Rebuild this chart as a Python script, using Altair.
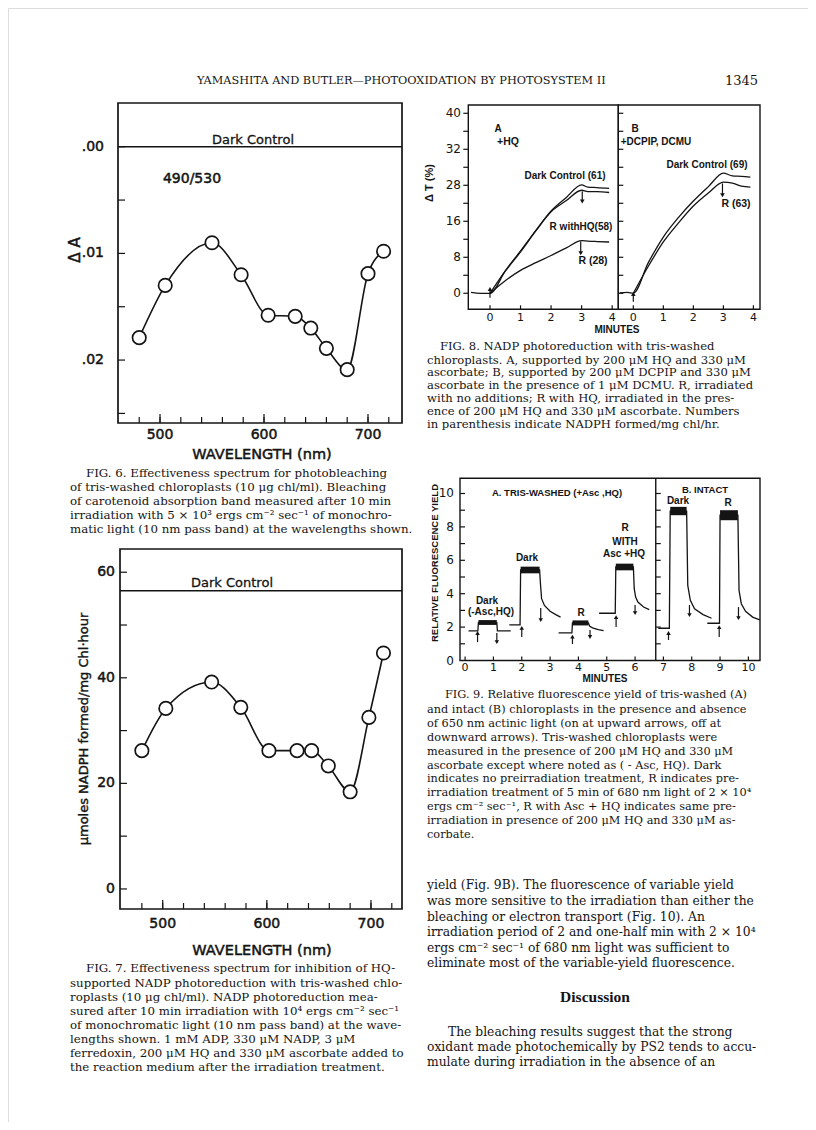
import altair as alt
import pandas as pd

M = 8


def P(v):
    return v - M


SANS = "DejaVu Sans"
LSANS = "Liberation Sans"
SERIF = "DejaVu Serif"
SERIF2 = "Liberation Serif"
INK = "#141414"

# ---------------- data ----------------
header_title = "YAMASHITA AND BUTLER—PHOTOOXIDATION BY PHOTOSYSTEM II"
page_number = "1345"

# Fig. 6
fig6_wavelength = [480, 505, 550, 578, 604, 630, 645, 660, 680, 700, 715]
fig6_delta_a = [0.0179, 0.0130, 0.0090, 0.0120, 0.0158, 0.0159, 0.0170, 0.0189, 0.0209, 0.0119, 0.0098]
fig6_dark_control = [0.0]
fig6_x_ticks = [480, 500, 520, 540, 560, 580, 600, 620, 640, 660, 680, 700, 720]
fig6_x_major = [500, 600, 700]
fig6_x_labels = ["500", "600", "700"]
fig6_y_ticks = [0.0, 0.005, 0.01, 0.015, 0.02, 0.025]
fig6_y_major = [0.0, 0.01, 0.02]
fig6_y_labels = [".00", ".01", ".02"]

# Fig. 7
fig7_wavelength = [480, 503, 547, 575, 602, 629, 643, 659, 680, 698, 712]
fig7_nadph = [26.2, 34.2, 39.2, 34.4, 26.2, 26.2, 26.2, 23.3, 18.4, 32.5, 44.7]
fig7_dark_control = [56.5]
fig7_y_ticks = [0, 10, 20, 30, 40, 50, 60]
fig7_y_major = [0, 20, 40, 60]
fig7_y_labels = ["0", "20", "40", "60"]

# Fig. 8 A (+HQ)
fig8a_dark_min = [-0.62, -0.3, 0.0, 0.5, 1.0, 1.5, 2.0, 2.5, 3.0, 3.2, 3.5, 3.9]
fig8a_dark_dt = [0.2, 0.0, 0.0, 4.9, 9.2, 13.9, 18.3, 21.3, 24.1, 23.6, 23.5, 23.3]
fig8a_rhq_min = [0.0, 0.5, 1.0, 1.5, 2.0, 2.5, 3.0, 3.2, 3.5, 3.9]
fig8a_rhq_dt = [0.0, 5.0, 9.4, 13.9, 18.1, 20.6, 22.9, 22.6, 22.6, 22.4]
fig8a_r_min = [0.0, 0.5, 1.0, 1.5, 2.0, 2.5, 3.0, 3.2, 3.5, 3.9]
fig8a_r_dt = [0.0, 2.8, 5.1, 6.8, 8.4, 10.1, 11.7, 11.6, 11.5, 11.4]
# Fig. 8 B (+DCPIP, DCMU)
fig8b_dark_min = [-0.45, -0.2, 0.0, 0.5, 1.0, 1.5, 2.0, 2.5, 3.0, 3.3, 3.6, 3.9]
fig8b_dark_dt = [0.1, 0.2, 0.0, 6.8, 12.5, 16.8, 20.5, 23.7, 26.7, 26.1, 26.0, 25.8]
fig8b_r_min = [0.0, 0.5, 1.0, 1.5, 2.0, 2.5, 3.0, 3.3, 3.6, 3.9]
fig8b_r_dt = [0.0, 6.0, 11.4, 15.6, 19.4, 22.3, 24.7, 24.5, 23.8, 23.6]
fig8_y_ticks = [0, 4, 8, 12, 16, 20, 24, 28, 32, 36, 40]
fig8_y_major = [0, 8, 16, 24, 32, 40]
fig8_y_labels = ["0", "8", "16", "28", "32", "40"]
fig8_x_ticks = [0, 1, 2, 3, 4]
fig8_x_labels = ["0", "1", "2", "3", "4"]
# arrows: minute, tail, head
fig8a_arrow_min = [0.0, 3.02, 2.97]
fig8a_arrow_tail = [-1.0, 22.6, 11.5]
fig8a_arrow_head = [0.96, 20.4, 8.9]
fig8b_arrow_min = [0.0, 2.97]
fig8b_arrow_tail = [-1.9, 24.4]
fig8b_arrow_head = [-0.15, 21.8]

# Fig. 9 traces (minutes, relative yield)
fig9_t1_min = [0.12, 0.45, 0.47, 1.12, 1.14, 1.61]
fig9_t1_val = [1.77, 1.77, 2.27, 2.27, 1.77, 1.77]
fig9_t2_min = [1.56, 1.94, 1.96, 2.63, 2.66, 2.7, 2.8, 3.0, 3.2, 3.37]
fig9_t2_val = [2.13, 2.13, 5.42, 5.42, 4.6, 3.7, 3.3, 2.95, 2.75, 2.6]
fig9_t3_min = [3.3, 3.77, 3.79, 4.35, 4.4, 4.5, 4.7, 4.89]
fig9_t3_val = [1.66, 1.66, 2.25, 2.25, 2.05, 1.95, 1.85, 1.79]
fig9_t4_min = [4.73, 5.3, 5.32, 5.94, 5.97, 6.02, 6.1, 6.3, 6.5]
fig9_t4_val = [2.83, 2.83, 5.6, 5.6, 4.3, 3.8, 3.5, 3.2, 3.05]
fig9_t5_min = [6.82, 7.21, 7.24, 7.82, 7.86, 7.95, 8.1, 8.4, 8.7]
fig9_t5_val = [1.93, 1.93, 8.95, 8.95, 4.5, 3.6, 3.1, 2.75, 2.53]
fig9_t6_min = [8.55, 8.98, 9.0, 9.63, 9.67, 9.75, 9.9, 10.15, 10.4]
fig9_t6_val = [2.23, 2.23, 8.7, 8.7, 4.2, 3.4, 2.95, 2.6, 2.43]
# noisy plateaus: start, end, low, high
fig9_plat_start = [0.47, 1.96, 3.79, 5.32, 7.24, 9.0]
fig9_plat_end = [1.12, 2.63, 4.35, 5.94, 7.82, 9.63]
fig9_plat_low = [2.13, 5.22, 2.1, 5.4, 8.7, 8.4]
fig9_plat_high = [2.42, 5.62, 2.4, 5.8, 9.2, 9.0]
# light on (up) / off (down) arrows
fig9_arrow_min = [0.44, 1.12, 2.0, 2.67, 3.79, 4.41, 5.33, 6.0, 7.18, 7.92, 8.97, 9.65]
fig9_arrow_tail = [1.1, 1.65, 1.4, 3.14, 0.99, 1.83, 2.0, 3.32, 1.23, 3.32, 1.41, 3.2]
fig9_arrow_head = [1.65, 1.1, 1.95, 2.42, 1.43, 1.41, 2.6, 2.84, 1.65, 2.72, 2.0, 2.54]
fig9_y_ticks = [1, 2, 3, 4, 5, 6, 7, 8, 9, 10]
fig9_y_major = [0, 2, 4, 6, 8, 10]
fig9_y_labels = ["0", "2", "4", "6", "8", "10"]
fig9_x_ticks = [0, 1, 2, 3, 4, 5, 6, 7, 8, 9, 10]
fig9_x_labels = ["0", "1", "2", "3", "4", "5", "6", "7", "8", "9", "10"]
fig9_divider = [6.73]

# captions and body text
fig6_caption = [
    "FIG. 6.  Effectiveness spectrum for photobleaching",
    "of tris-washed chloroplasts (10 μg chl/ml).  Bleaching",
    "of carotenoid absorption band measured after 10 min",
    "irradiation with 5 × 10³ ergs cm⁻² sec⁻¹ of monochro-",
    "matic light (10 nm pass band) at the wavelengths shown.",
]
fig7_caption = [
    "FIG. 7.  Effectiveness spectrum for inhibition of HQ-",
    "supported NADP photoreduction with tris-washed chlo-",
    "roplasts (10 μg chl/ml).  NADP photoreduction mea-",
    "sured after 10 min irradiation with 10⁴ ergs cm⁻² sec⁻¹",
    "of monochromatic light (10 nm pass band) at the wave-",
    "lengths shown.  1 mM ADP, 330 μM NADP, 3 μM",
    "ferredoxin, 200 μM HQ and 330 μM ascorbate added to",
    "the reaction medium after the irradiation treatment.",
]
fig8_caption = [
    "FIG. 8.  NADP photoreduction with tris-washed",
    "chloroplasts.  A, supported by 200 μM HQ and 330 μM",
    "ascorbate; B, supported by 200 μM DCPIP and 330 μM",
    "ascorbate in the presence of 1 μM DCMU.  R, irradiated",
    "with no additions; R with HQ, irradiated in the pres-",
    "ence of 200 μM HQ and 330 μM ascorbate.  Numbers",
    "in parenthesis indicate NADPH formed/mg chl/hr.",
]
fig9_caption = [
    "FIG. 9.  Relative fluorescence yield of tris-washed (A)",
    "and intact (B) chloroplasts in the presence and absence",
    "of 650 nm actinic light (on at upward arrows, off at",
    "downward arrows).  Tris-washed chloroplasts were",
    "measured in the presence of 200 μM HQ and 330 μM",
    "ascorbate except where noted as ( - Asc, HQ).  Dark",
    "indicates no preirradiation treatment, R indicates pre-",
    "irradiation treatment of 5 min of 680 nm light of 2 × 10⁴",
    "ergs cm⁻² sec⁻¹, R with Asc + HQ indicates same pre-",
    "irradiation in presence of 200 μM HQ and 330 μM as-",
    "corbate.",
]
body_para1 = [
    "yield (Fig. 9B).  The fluorescence of variable yield",
    "was more sensitive to the irradiation than either the",
    "bleaching  or  electron  transport  (Fig. 10).   An",
    "irradiation period of 2 and one-half min with 2 × 10⁴",
    "ergs cm⁻² sec⁻¹ of 680 nm light was sufficient to",
    "eliminate most of the variable-yield fluorescence.",
]
body_heading = "Discussion"
body_para2 = [
    "The bleaching results suggest that the strong",
    "oxidant made photochemically by PS2 tends to accu-",
    "mulate during irradiation in the absence of an",
]


# ---------------- helpers ----------------
def S(domain, rng):
    return alt.Scale(domain=domain, range=[P(rng[0]), P(rng[1])], nice=False, zero=False)


def ex(f, sc):
    return alt.X(f + ":Q", scale=sc, axis=None)


def ey(f, sc):
    return alt.Y(f + ":Q", scale=sc, axis=None)


def frame(xs, ys, xd, yd, sw=1.7):
    df = pd.DataFrame({"x0": [xd[0]], "x1": [xd[1]], "y0": [yd[0]], "y1": [yd[1]]})
    return alt.Chart(df).mark_rect(fill="transparent", stroke=INK, strokeWidth=sw).encode(
        x=ex("x0", xs), x2="x1:Q", y=ey("y0", ys), y2="y1:Q")


def xticks(vals, xs, ys, ybase, length, sw=1.2):
    df = pd.DataFrame({"t": vals, "b": [ybase] * len(vals)})
    return alt.Chart(df).mark_rule(color=INK, strokeWidth=sw, y2Offset=-length).encode(
        x=ex("t", xs), y=ey("b", ys), y2="b:Q")


def yticks(vals, xs, ys, xbase, length, sw=1.2):
    df = pd.DataFrame({"v": vals, "b": [xbase] * len(vals)})
    return alt.Chart(df).mark_rule(color=INK, strokeWidth=sw, x2Offset=length).encode(
        y=ey("v", ys), x=ex("b", xs), x2="b:Q")


def hrule(val, xs, ys, xd, sw=1.5):
    df = pd.DataFrame({"v": val, "a": [xd[0]] * len(val), "b": [xd[1]] * len(val)})
    return alt.Chart(df).mark_rule(color=INK, strokeWidth=sw).encode(
        y=ey("v", ys), x=ex("a", xs), x2="b:Q")


def vrule(val, xs, ys, yd, sw=1.5):
    df = pd.DataFrame({"t": val, "a": [yd[0]] * len(val), "b": [yd[1]] * len(val)})
    return alt.Chart(df).mark_rule(color=INK, strokeWidth=sw).encode(
        x=ex("t", xs), y=ey("a", ys), y2="b:Q")


def xlabels(vals, labels, xs, ypix, size, font=SANS, weight="normal", sw=0.0):
    df = pd.DataFrame({"t": vals, "lab": labels})
    kw = dict(font=font, fontSize=size, fontWeight=weight, color=INK, align="center", baseline="middle")
    if sw:
        kw.update(stroke=INK, strokeWidth=sw)
    return alt.Chart(df).mark_text(**kw).encode(x=ex("t", xs), y=alt.value(P(ypix)), text="lab:N")


def ylabels(vals, labels, ys, xpix, size, font=SANS, weight="normal", sw=0.0):
    df = pd.DataFrame({"v": vals, "lab": labels})
    kw = dict(font=font, fontSize=size, fontWeight=weight, color=INK, align="right", baseline="middle")
    if sw:
        kw.update(stroke=INK, strokeWidth=sw)
    return alt.Chart(df).mark_text(**kw).encode(y=ey("v", ys), x=alt.value(P(xpix)), text="lab:N")


def curve(tv, vv, xs, ys, interp="monotone", sw=1.5):
    df = pd.DataFrame({"t": tv, "v": vv, "i": list(range(len(tv)))})
    return alt.Chart(df).mark_line(color=INK, strokeWidth=sw, interpolate=interp).encode(
        x=ex("t", xs), y=ey("v", ys), order="i:Q")


def arrows(tv, tail, head, xs, ys, sw=1.2, size=22):
    shapes = ["triangle-down" if h < t else "triangle-up" for t, h in zip(tail, head)]
    offs = [-2 if h < t else 2 for t, h in zip(tail, head)]
    df = pd.DataFrame({"t": tv, "a": tail, "b": head, "shp": shapes, "off": offs})
    shaft = alt.Chart(df).mark_rule(color=INK, strokeWidth=sw).encode(
        x=ex("t", xs), y=ey("a", ys), y2="b:Q")
    tip = alt.Chart(df).mark_point(filled=True, color=INK, size=size, opacity=1).encode(
        x=ex("t", xs), y=ey("b", ys), shape=alt.Shape("shp:N", scale=None, legend=None),
        yOffset=alt.YOffset("off:Q", scale=None))
    return [shaft, tip]


def txt(s, x, y, size, font=SANS, weight="normal", align="center", baseline="middle",
        angle=0, lh=0, sw=0.0):
    kw = dict(text=s, font=font, fontSize=size, fontWeight=weight, align=align,
              baseline=baseline, color=INK)
    if angle:
        kw["angle"] = angle
    if lh:
        kw["lineHeight"] = lh
    if sw:
        kw.update(stroke=INK, strokeWidth=sw)
    return alt.Chart(alt.InlineData(values=[{"k": 0}])).mark_text(**kw).encode(
        x=alt.value(P(x)), y=alt.value(P(y)))


def paragraph(lines, x_first, x_rest, y_first_center, lh, size, font=SERIF):
    out = [txt(lines[0], x_first, y_first_center, size, font=font, align="left")]
    if len(lines) > 1:
        out.append(txt(lines[1:], x_rest, y_first_center + lh + 0.36 * size, size, font=font,
                       align="left", baseline="alphabetic", lh=lh))
    return out


# ---------------- Fig. 6 ----------------
xd6, yd6 = [459.6, 732.7], [-0.0041, 0.0259]
xs6, ys6 = S(xd6, [118, 402]), S(yd6, [103, 423])
fig6_df = pd.DataFrame({"wl": fig6_wavelength, "dA": fig6_delta_a})
fig6 = alt.layer(
    frame(xs6, ys6, xd6, yd6),
    hrule(fig6_dark_control, xs6, ys6, xd6, sw=1.6),
    xticks(fig6_x_ticks, xs6, ys6, yd6[1], 6),
    xticks(fig6_x_major, xs6, ys6, yd6[1], 9),
    yticks(fig6_y_ticks, xs6, ys6, xd6[0], 7),
    alt.Chart(fig6_df).mark_line(color=INK, strokeWidth=1.6, interpolate="monotone").encode(
        x=ex("wl", xs6), y=ey("dA", ys6)),
    alt.Chart(fig6_df).mark_point(shape="circle", filled=True, fill="white", stroke=INK,
                                  strokeWidth=1.7, size=180, opacity=1).encode(
        x=ex("wl", xs6), y=ey("dA", ys6)),
    xlabels(fig6_x_major, fig6_x_labels, xs6, 435, 14, sw=0.5),
    ylabels(fig6_y_major, fig6_y_labels, ys6, 104, 14, sw=0.5),
)

# ---------------- Fig. 7 ----------------
xd7, yd7 = [459.0, 729.8], [-3.8, 64.4]
xs7, ys7 = S(xd7, [120, 402]), S(yd7, [909, 549])
fig7_df = pd.DataFrame({"wl": fig7_wavelength, "v": fig7_nadph})
fig7 = alt.layer(
    frame(xs7, ys7, xd7, yd7),
    hrule(fig7_dark_control, xs7, ys7, xd7, sw=1.6),
    xticks(fig6_x_ticks, xs7, ys7, yd7[0], 6),
    xticks(fig6_x_major, xs7, ys7, yd7[0], 9),
    yticks(fig7_y_ticks, xs7, ys7, xd7[0], 7),
    alt.Chart(fig7_df).mark_line(color=INK, strokeWidth=1.6, interpolate="monotone").encode(
        x=ex("wl", xs7), y=ey("v", ys7)),
    alt.Chart(fig7_df).mark_point(shape="circle", filled=True, fill="white", stroke=INK,
                                  strokeWidth=1.7, size=180, opacity=1).encode(
        x=ex("wl", xs7), y=ey("v", ys7)),
    xlabels(fig6_x_major, fig6_x_labels, xs7, 924, 14, sw=0.5),
    ylabels(fig7_y_major, fig7_y_labels, ys7, 115, 14, sw=0.5),
)

# ---------------- Fig. 8 ----------------
yd8 = [-3.56, 41.84]
xd8a, xd8b = [-0.71, 4.2], [-0.5, 4.22]
ys8 = S(yd8, [309.3, 105])
xs8a, xs8b = S(xd8a, [468.3, 618.3]), S(xd8b, [618.3, 760])
fig8a = alt.layer(
    frame(xs8a, ys8, xd8a, yd8, sw=1.4),
    yticks(fig8_y_ticks, xs8a, ys8, xd8a[0], -5),
    xticks(fig8_x_ticks, xs8a, ys8, yd8[0], 4),
    curve(fig8a_dark_min, fig8a_dark_dt, xs8a, ys8, sw=1.3),
    curve(fig8a_rhq_min, fig8a_rhq_dt, xs8a, ys8, sw=1.3),
    curve(fig8a_r_min, fig8a_r_dt, xs8a, ys8, sw=1.3),
    *arrows(fig8a_arrow_min, fig8a_arrow_tail, fig8a_arrow_head, xs8a, ys8),
    ylabels(fig8_y_major, fig8_y_labels, ys8, 461, 12),
    xlabels(fig8_x_ticks, fig8_x_labels, xs8a, 318, 11),
)
fig8b = alt.layer(
    frame(xs8b, ys8, xd8b, yd8, sw=1.4),
    yticks(fig8_y_ticks, xs8b, ys8, xd8b[0], 5),
    xticks(fig8_x_ticks, xs8b, ys8, yd8[0], 4),
    curve(fig8b_dark_min, fig8b_dark_dt, xs8b, ys8, sw=1.3),
    curve(fig8b_r_min, fig8b_r_dt, xs8b, ys8, sw=1.3),
    *arrows(fig8b_arrow_min, fig8b_arrow_tail, fig8b_arrow_head, xs8b, ys8),
    xlabels(fig8_x_ticks, fig8_x_labels, xs8b, 318, 11),
)

# ---------------- Fig. 9 ----------------
xd9, yd9 = [-0.18, 10.41], [0.0, 10.91]
xs9, ys9 = S(xd9, [460, 760]), S(yd9, [660.5, 478.3])
plat_df = pd.DataFrame({"a": fig9_plat_start, "b": fig9_plat_end,
                        "lo": fig9_plat_low, "hi": fig9_plat_high})
traces = [(fig9_t1_min, fig9_t1_val), (fig9_t2_min, fig9_t2_val), (fig9_t3_min, fig9_t3_val),
          (fig9_t4_min, fig9_t4_val), (fig9_t5_min, fig9_t5_val), (fig9_t6_min, fig9_t6_val)]
fig9 = alt.layer(
    frame(xs9, ys9, xd9, yd9, sw=1.4),
    vrule(fig9_divider, xs9, ys9, yd9, sw=1.4),
    yticks(fig9_y_ticks, xs9, ys9, xd9[0], 5),
    yticks(fig9_y_ticks, xs9, ys9, fig9_divider[0], 5),
    xticks(fig9_x_ticks, xs9, ys9, yd9[0], 4),
    *[curve(t, v, xs9, ys9, interp="linear", sw=1.3) for t, v in traces],
    alt.Chart(plat_df).mark_rect(color=INK).encode(
        x=ex("a", xs9), x2="b:Q", y=ey("lo", ys9), y2="hi:Q"),
    *arrows(fig9_arrow_min, fig9_arrow_tail, fig9_arrow_head, xs9, ys9, sw=1.2, size=20),
    ylabels(fig9_y_major, fig9_y_labels, ys9, 454, 12),
    xlabels(fig9_x_ticks, fig9_x_labels, xs9, 668, 11),
)

# ---------------- page texts ----------------
texts = [
    txt(header_title, 197, 81, 11.3, font=SERIF, align="left"),
    txt(page_number, 758, 81, 13, font=SERIF, align="right"),
    # fig 6
    txt("Dark Control", 253, 140, 13, sw=0.3),
    txt("490/530", 192, 179, 14, sw=0.5),
    txt("Δ A", 75, 250, 15, angle=270, sw=0.5),
    txt("WAVELENGTH (nm)", 262, 455, 14.5, sw=0.5),
    # fig 7
    txt("Dark Control", 232, 583, 13, sw=0.3),
    txt("μmoles NADPH formed/mg Chl·hour", 84, 729, 13, angle=270, sw=0.4),
    txt("WAVELENGTH (nm)", 262, 951, 14.5, sw=0.5),
    # fig 8
    txt("A", 498, 129, 10, font=LSANS, weight="bold"),
    txt("+HQ", 508, 142, 10.5, font=LSANS, weight="bold"),
    txt("Dark Control (61)", 565, 176, 10, font=LSANS, weight="bold"),
    txt("R withHQ(58)", 581, 227, 10, font=LSANS, weight="bold"),
    txt("R (28)", 593, 261, 10.5, font=LSANS, weight="bold"),
    txt("B", 635, 129, 10, font=LSANS, weight="bold"),
    txt("+DCPIP, DCMU", 656, 142, 10, font=LSANS, weight="bold"),
    txt("Dark Control (69)", 707, 165, 10, font=LSANS, weight="bold"),
    txt("R (63)", 736, 204, 10.5, font=LSANS, weight="bold"),
    txt("Δ T  (%)", 430, 183, 11, font=LSANS, weight="bold", angle=270),
    txt("MINUTES", 617, 330, 10, font=LSANS, weight="bold"),
    # fig 9
    txt("A. TRIS-WASHED (+Asc ,HQ)", 557, 493, 9.5, font=LSANS, weight="bold"),
    txt("B.  INTACT", 705, 490, 9.5, font=LSANS, weight="bold"),
    txt("Dark", 678, 501, 10, font=LSANS, weight="bold"),
    txt("R", 728, 503, 10, font=LSANS, weight="bold"),
    txt("Dark", 527, 558, 10, font=LSANS, weight="bold"),
    txt("R", 625, 528, 10, font=LSANS, weight="bold"),
    txt("WITH", 625, 542, 10, font=LSANS, weight="bold"),
    txt("Asc +HQ", 624, 554, 10, font=LSANS, weight="bold"),
    txt("Dark", 487, 601, 10, font=LSANS, weight="bold"),
    txt("(-Asc,HQ)", 491, 612, 10, font=LSANS, weight="bold"),
    txt("R", 581, 613, 10, font=LSANS, weight="bold"),
    txt("RELATIVE  FLUORESCENCE  YIELD", 435, 563, 9.5, font=LSANS, weight="bold", angle=270),
    txt("MINUTES", 605, 679, 10, font=LSANS, weight="bold"),
    # body
    txt(body_heading, 595, 997, 15.5, font=SERIF2, weight="bold"),
]
texts += paragraph(fig6_caption, 86, 70, 472.7, 13.9, 11.8)
texts += paragraph(fig7_caption, 86, 70, 968.3, 14.1, 11.8)
texts += paragraph(fig8_caption, 440, 427, 346.7, 12.8, 11.6)
texts += paragraph(fig9_caption, 445, 427, 695, 13.9, 11.3)
texts += paragraph(body_para1, 427, 427, 885, 15.6, 12.3)
texts += paragraph(body_para2, 448, 427, 1031.7, 15.0, 12.3)

chart = alt.layer(fig6, fig7, fig8a, fig8b, fig9, *texts).resolve_scale(
    x="independent", y="independent"
).properties(
    width=800, height=1114, padding=0, autosize=alt.AutoSizeParams(type="none")
).configure_view(stroke=None).configure(background="white")

chart.save("out.html", embed_options={"renderer": "svg", "actions": False})
